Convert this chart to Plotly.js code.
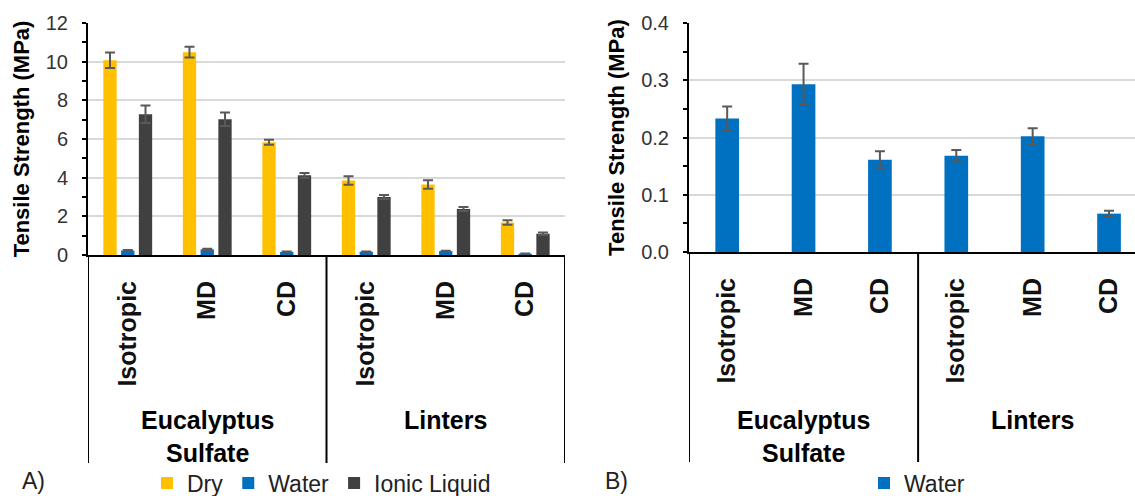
<!DOCTYPE html>
<html>
<head>
<meta charset="utf-8">
<script src="https://cdn.plot.ly/plotly-3.0.1.min.js"></script>
<style>html,body{margin:0;padding:0;background:#fff;}#chart{width:1135px;height:496px;}</style>
</head>
<body>
<div id="chart"></div>
<script>
// ---- data ----
const groups = ['Eucalyptus Sulfate','Eucalyptus Sulfate','Eucalyptus Sulfate','Linters','Linters','Linters'];
const groupLabels = {'Eucalyptus Sulfate':'Eucalyptus<br>Sulfate','Linters':'Linters'};
const directions = ['Isotropic','MD','CD','Isotropic','MD','CD'];

const dryValues   = [10.07, 10.49, 5.83, 3.85, 3.65, 1.68];
const dryErrors   = [0.40, 0.28, 0.13, 0.22, 0.22, 0.12];
const waterValues = [0.233, 0.293, 0.161, 0.168, 0.202, 0.067];
const waterErrors = [0.021, 0.036, 0.015, 0.010, 0.014, 0.005];
const ionicValues = [7.28, 7.02, 4.12, 3.00, 2.38, 1.10];
const ionicErrors = [0.45, 0.35, 0.12, 0.10, 0.10, 0.06];

const yTicksA = [0, 2, 4, 6, 8, 10, 12];
const yTicksB = [0, 0.1, 0.2, 0.3, 0.4];
const yTickTextB = ['0.0', '0.1', '0.2', '0.3', '0.4'];

// ---- build ----
const keys = groups.map((g, i) => g + ' ' + directions[i]);
const W = 1135, H = 496;
const font = 'Arial, "Liberation Sans", sans-serif';
const errStyle = {type: 'data', color: '#595959', thickness: 2, width: 5};

function bar(name, y, err, color, xa, ya, legend, extra) {
  return Object.assign({
    type: 'bar', name: name, x: keys, y: y,
    error_y: Object.assign({array: err}, errStyle),
    marker: {color: color},
    xaxis: xa, yaxis: ya, legend: legend, hoverinfo: 'skip'
  }, extra || {});
}

const traces = [
  bar('Dry', dryValues, dryErrors, '#FFC000', 'x', 'y', 'legend'),
  bar('Water', waterValues, waterErrors, '#0070C0', 'x', 'y', 'legend'),
  bar('Ionic Liquid', ionicValues, ionicErrors, '#404040', 'x', 'y', 'legend'),
  bar('Water', waterValues, waterErrors, '#0070C0', 'x2', 'y2', 'legend2', {width: 0.31})
];

// group boundaries & centres from data
const uniqGroups = [...new Set(groups)];
const bounds = [-0.5];
const centres = [];
uniqGroups.forEach(g => {
  const idx = groups.map((gg, i) => gg === g ? i : -1).filter(i => i >= 0);
  centres.push({g: g, x: idx.reduce((a, b) => a + b, 0) / idx.length});
  bounds.push(Math.max(...idx) + 0.5);
});

const domA = [88 / W, 565 / W];
const domB = [689 / W, 1];
const yDomA = [1 - 255 / H, 1 - 23 / H];
const yDomB = [1 - 252 / H, 1 - 23 / H];
const divBottomA = 1 - 463 / H;
const divBottomB = 1 - 462 / H;

function xaxis(dom, range) {
  return {
    domain: dom, type: 'category', range: range, fixedrange: true,
    tickmode: 'array', tickvals: keys, ticktext: directions,
    tickangle: -90, ticks: '', showgrid: false, zeroline: false,
    showline: true, linecolor: '#000', linewidth: 2,
    tickfont: {family: font, size: 25, color: '#111', weight: 'bold'},
    ticklabelstandoff: 14, automargin: false
  };
}
function yaxis(dom, range, tv, tt, minorDt, anchor) {
  return {
    domain: dom, range: range, anchor: anchor, fixedrange: true,
    tickmode: 'array', tickvals: tv, ticktext: tt,
    ticks: 'outside', ticklen: 4, tickwidth: 2, tickcolor: '#000',
    minor: {dtick: minorDt, ticks: 'outside', ticklen: 4, tickwidth: 2, tickcolor: '#000', showgrid: false},
    showgrid: true, gridcolor: '#d9d9d9', gridwidth: 2, zeroline: false,
    showline: true, linecolor: '#000', linewidth: 2,
    tickfont: {family: font, size: 20, color: '#333'},
    ticklabelstandoff: 10, automargin: false,
    title: {text: 'Tensile Strength (MPa)', standoff: 10,
            font: {family: font, size: 22, color: '#000', weight: 'bold'}}
  };
}

const shapes = [];
bounds.forEach(b => {
  shapes.push({type: 'line', xref: 'x', yref: 'paper', x0: b, x1: b, y0: divBottomA, y1: yDomA[0],
               line: {color: '#000', width: 2}});
  shapes.push({type: 'line', xref: 'x2', yref: 'paper', x0: b, x1: b, y0: divBottomB, y1: yDomB[0],
               line: {color: '#000', width: 2}});
});

const annotations = [];
centres.forEach(c => {
  ['x', 'x2'].forEach(xr => {
    annotations.push({xref: xr, yref: 'paper', x: c.x, y: 1 - 404 / H, yanchor: 'top', xanchor: 'center',
      text: groupLabels[c.g], showarrow: false, align: 'center',
      font: {family: font, size: 25, color: '#000', weight: 'bold'}});
  });
});
annotations.push({xref: 'paper', yref: 'paper', x: 20 / W, y: 0, xanchor: 'left', yanchor: 'bottom',
  text: 'A)', showarrow: false, font: {family: font, size: 23, color: '#222'}});
annotations.push({xref: 'paper', yref: 'paper', x: 603 / W, y: 0, xanchor: 'left', yanchor: 'bottom',
  text: 'B)', showarrow: false, font: {family: font, size: 23, color: '#222'}});

const legendStyle = {orientation: 'h', yanchor: 'middle', xanchor: 'left', y: 1 - 483 / H,
  font: {family: font, size: 23, color: '#222'}, bgcolor: 'rgba(0,0,0,0)', itemclick: false, itemdoubleclick: false};

const layout = {
  width: W, height: H,
  margin: {l: 0, r: 0, t: 0, b: 0, pad: 0, autoexpand: false},
  paper_bgcolor: '#fff', plot_bgcolor: '#fff',
  barmode: 'group', bargap: 0.33, bargroupgap: 0.25,
  font: {family: font},
  showlegend: true,
  legend: Object.assign({}, legendStyle, {x: 147 / W}),
  legend2: Object.assign({}, legendStyle, {x: 864 / W}),
  xaxis: Object.assign(xaxis(domA, [-0.5, 5.5]), {anchor: 'y'}),
  yaxis: yaxis(yDomA, [0, 12], yTicksA, yTicksA.map(String), 1, 'x'),
  xaxis2: Object.assign(xaxis(domB, [-0.5, 5.34]), {anchor: 'y2'}),
  yaxis2: yaxis(yDomB, [0, 0.4], yTicksB, yTickTextB, 0.05, 'x2'),
  shapes: shapes,
  annotations: annotations
};

Plotly.newPlot('chart', traces, layout, {staticPlot: true, displayModeBar: false});
</script>
</body>
</html>
